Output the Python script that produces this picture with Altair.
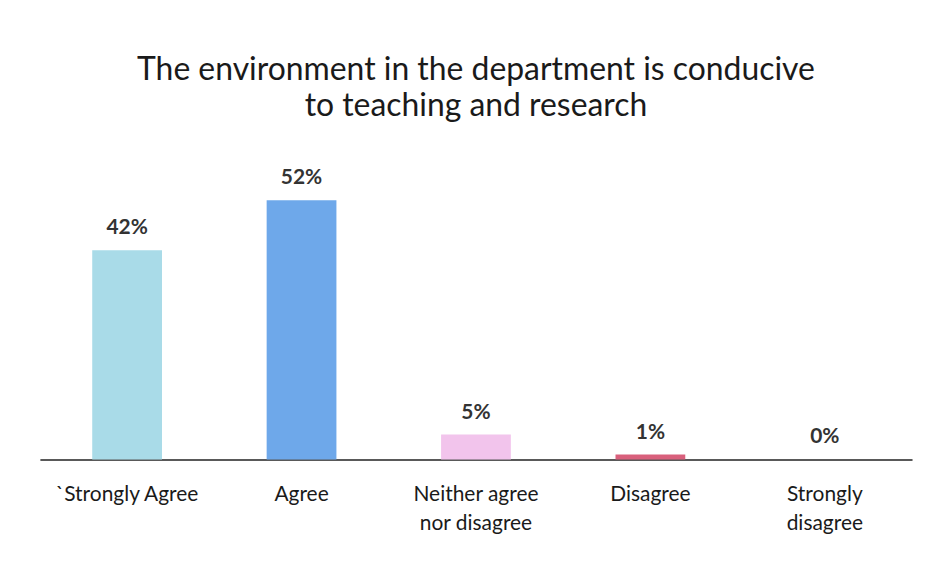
import altair as alt
import pandas as pd

categories = ["`Strongly Agree", "Agree", "Neither agree|nor disagree", "Disagree", "Strongly|disagree"]
percent = [42, 52, 5, 1, 0]
colors = ["#a9dbe8", "#6ea8ea", "#f2c4ec", "#d9607c", "#cccccc"]

df = pd.DataFrame({"category": categories, "pct": percent, "color": colors})
df["label"] = df["pct"].astype(str) + "%"

FONT = "Lato"

x = alt.X("category:N", sort=categories, title=None,
          scale=alt.Scale(paddingInner=0.6, paddingOuter=0.3),
          axis=alt.Axis(labelExpr="split(datum.label, '|')", labelAngle=0,
                        labelFontSize=21, labelColor="#1a1a1a", labelFont=FONT,
                        labelPadding=24, ticks=False, domainColor="#222",
                        domainWidth=1.5, labelBaseline="top", labelLineHeight=29))
y = alt.Y("pct:Q", scale=alt.Scale(domain=[0, 60]), axis=None)

bars = alt.Chart(df).mark_bar().encode(
    x=x, y=y, color=alt.Color("color:N", scale=None)
)
text = alt.Chart(df).mark_text(dy=-22, fontSize=21, font=FONT, fontWeight="bold", color="#333").encode(
    x=x, y=y, text="label:N"
)

chart = (bars + text).properties(
    width=875, height=300,
    padding={"left": 32, "top": 152, "right": 10, "bottom": 110},
    autosize=alt.AutoSizeParams(type="none"),
    title=alt.TitleParams(
        ["The environment in the department is conducive", "to teaching and research"],
        fontSize=32, font=FONT, fontWeight="normal", color="#1a1a1a", offset=38,
        lineHeight=36, anchor="middle"),
).configure_view(stroke=None)

chart.save("out.html", embed_options={"renderer": "svg", "actions": False})
